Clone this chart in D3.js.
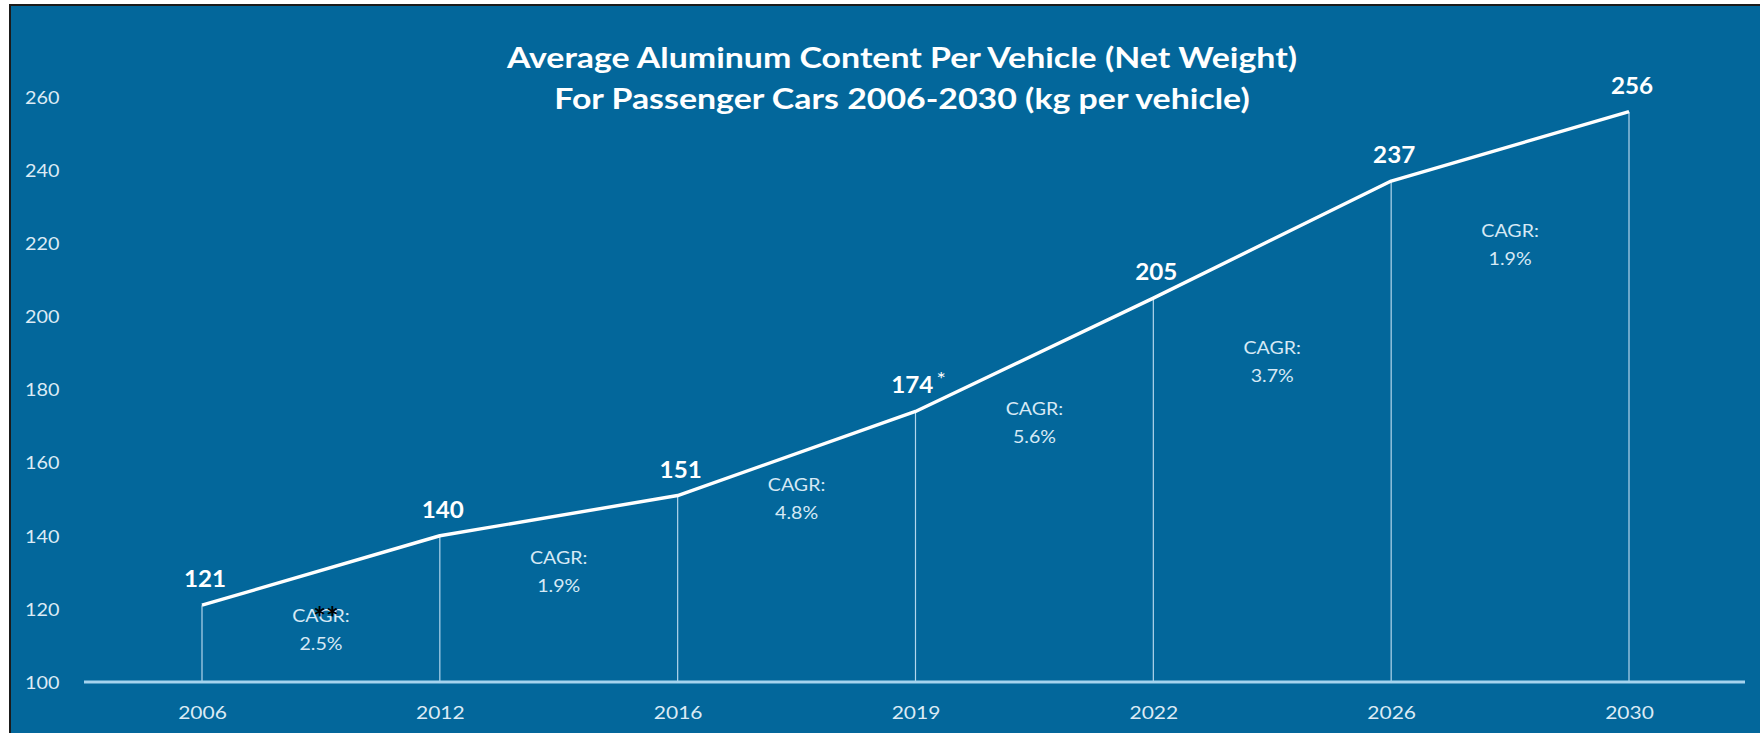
<!DOCTYPE html>
<html>
<head>
<meta charset="utf-8">
<script src="https://cdn.jsdelivr.net/npm/d3@7"></script>
<style>
  html, body { margin: 0; padding: 0; background: #ffffff; }
  svg { display: block; }
  text { font-family: Lato, "Open Sans", sans-serif; }
</style>
</head>
<body>
<svg id="chart" width="1760" height="733"></svg>
<script>
// Average aluminum content per passenger car, kg per vehicle
const years = ["2006", "2012", "2016", "2019", "2022", "2026", "2030"];
const kgPerVehicle = [121, 140, 151, 174, 205, 237, 256];
const valueMarks = ["", "", "", "*", "", "", ""];
const cagrLabels = ["2.5%", "1.9%", "4.8%", "5.6%", "3.7%", "1.9%"];
const yTicks = [100, 120, 140, 160, 180, 200, 220, 240, 260];
const titleLines = [
  "Average Aluminum Content Per Vehicle (Net Weight)",
  "For Passenger Cars 2006-2030 (kg per vehicle)"
];

// layout
const W = 1760, H = 733;
const frame = { x: 10, y: 5 };
const plot = { left: 202, right: 1629, top: 97, bottom: 682 };
const axisLineX = [84, 1745];
const cagrDrop = [45, 42, 31, 54, 108, 85]; // px below each segment midpoint

const colors = {
  bg: "#03679b",
  line: "#ffffff",
  drop: "#b3d6ec",
  axis: "#a6d3ee",
  tickText: "#dcebf5",
  cagrText: "#d6e9f5"
};

const svg = d3.select("#chart");

// the typeface is drawn a little wide; stretch glyphs horizontally about their anchor
function placeText(g, cx, cy, sx) {
  return g.append("g").attr("transform", `translate(${cx},${cy}) scale(${sx},1)`);
}

// white page with a dark frame around the blue panel
svg.append("rect").attr("x", 0).attr("y", 0).attr("width", W).attr("height", H).attr("fill", "#ffffff");
svg.append("rect")
  .attr("x", frame.x).attr("y", frame.y)
  .attr("width", W - frame.x + 5).attr("height", H - frame.y + 5)
  .attr("fill", colors.bg)
  .attr("stroke", "#1b1b1b").attr("stroke-width", 2);

const x = d3.scalePoint().domain(years).range([plot.left, plot.right]).padding(0);
const y = d3.scaleLinear().domain([100, 260]).range([plot.bottom, plot.top]);

const data = years.map((yr, i) => ({ year: yr, value: kgPerVehicle[i], mark: valueMarks[i] }));

// title
titleLines.forEach((t, i) => {
  placeText(svg, 902, 68 + i * 41, 1.21)
    .append("text")
    .attr("text-anchor", "middle")
    .attr("fill", "#ffffff")
    .attr("font-weight", 700)
    .attr("font-size", 28)
    .text(t);
});

// y axis labels (no tick marks, no domain line)
const yAxis = d3.axisLeft(y).tickValues(yTicks).tickSize(0).tickPadding(0);
const gy = svg.append("g").attr("transform", "translate(25,0)").call(yAxis);
gy.select(".domain").remove();
gy.selectAll("text")
  .attr("text-anchor", "start")
  .attr("x", 0)
  .attr("dy", "0.35em")
  .attr("transform", "scale(1.1,1)")
  .attr("fill", colors.tickText)
  .attr("font-size", 18)
  .style("font-family", "Lato, sans-serif");

// vertical drop lines from each point to the baseline
svg.append("g").selectAll("line").data(data).join("line")
  .attr("x1", d => x(d.year)).attr("x2", d => x(d.year))
  .attr("y1", d => y(d.value)).attr("y2", plot.bottom)
  .attr("stroke", colors.drop).attr("stroke-width", 1.2);

// baseline
svg.append("line")
  .attr("x1", axisLineX[0]).attr("x2", axisLineX[1])
  .attr("y1", plot.bottom).attr("y2", plot.bottom)
  .attr("stroke", colors.axis).attr("stroke-width", 3);

// x axis labels
const xAxis = d3.axisBottom(x).tickSize(0).tickPadding(0);
const gx = svg.append("g").attr("transform", `translate(0,${plot.bottom})`).call(xAxis);
gx.select(".domain").remove();
gx.selectAll("text")
  .attr("y", 31)
  .attr("dy", "0.35em")
  .attr("transform", "scale(1.2,1)")
  .attr("fill", colors.tickText)
  .attr("font-size", 17.5)
  .style("font-family", "Lato, sans-serif");

// the series line
const line = d3.line().x(d => x(d.year)).y(d => y(d.value));
svg.append("path").datum(data)
  .attr("d", line)
  .attr("fill", "none")
  .attr("stroke", colors.line)
  .attr("stroke-width", 3.4)
  .attr("stroke-linejoin", "round");

// value labels
const labels = svg.append("g");
data.forEach(d => {
  const t = placeText(labels, x(d.year) + 3, y(d.value) - 18, 1.1)
    .append("text")
    .attr("text-anchor", "middle")
    .attr("fill", "#ffffff")
    .attr("font-weight", 700)
    .attr("font-size", 22);
  t.append("tspan").text(d.value);
  if (d.mark) {
    t.append("tspan")
      .attr("dx", 3).attr("dy", -7)
      .attr("font-size", 20).attr("font-weight", 400)
      .text(d.mark);
  }
});

// CAGR annotations between consecutive points
const segs = d3.pairs(data).map(([a, b], i) => ({
  cx: (x(a.year) + x(b.year)) / 2,
  cy: (y(a.value) + y(b.value)) / 2 + cagrDrop[i],
  label: cagrLabels[i]
}));
const notes = svg.append("g");
segs.forEach(s => {
  const t = placeText(notes, s.cx, s.cy, 1.12)
    .append("text")
    .attr("text-anchor", "middle")
    .attr("fill", colors.cagrText)
    .attr("font-size", 17.5);
  t.append("tspan").attr("x", 0).attr("y", 0).attr("dy", "0.35em").text("CAGR:");
  t.append("tspan").attr("x", 0).attr("y", 28).attr("dy", "0.35em").text(s.label);
});

// footnote marker over the first CAGR note
svg.append("text")
  .attr("x", segs[0].cx + 5).attr("y", segs[0].cy + 14)
  .attr("text-anchor", "middle")
  .attr("fill", "#000000")
  .attr("font-weight", 700)
  .attr("font-size", 30)
  .text("**");
</script>
</body>
</html>
